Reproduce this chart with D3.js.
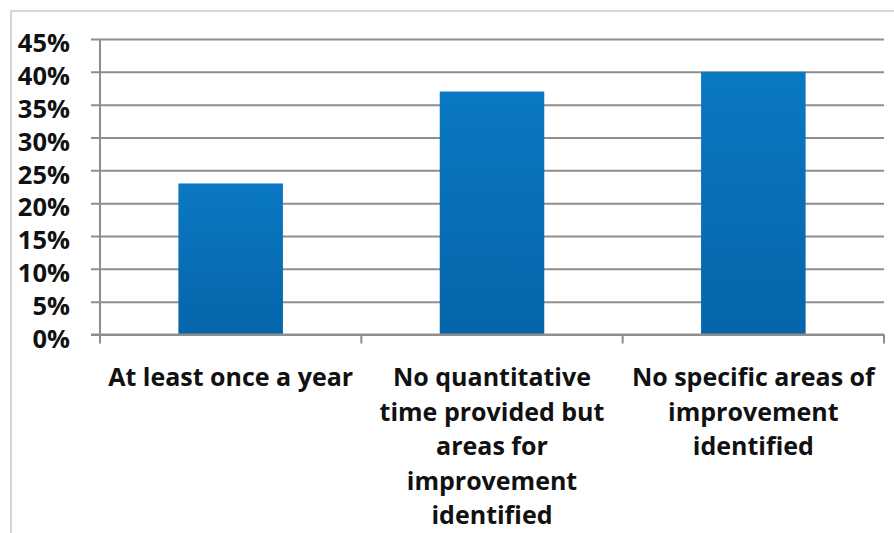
<!DOCTYPE html>
<html>
<head>
<meta charset="utf-8">
<script src="https://cdn.jsdelivr.net/npm/d3@7"></script>
<style>
  html, body { margin: 0; padding: 0; background: #fff; }
  svg { display: block; }
  text { font-family: "Open Sans", "Lato", sans-serif; font-weight: 700; fill: #111; }
</style>
</head>
<body>
<svg id="chart" width="894" height="533"></svg>
<script>
// Categories, with the line breaks used for their axis labels
const categories = [
  "At least once a year",
  "No quantitative time provided but areas for improvement identified",
  "No specific areas of improvement identified"
];
const categoryLines = [
  ["At least once a year"],
  ["No quantitative", "time provided but", "areas for", "improvement", "identified"],
  ["No specific areas of", "improvement", "identified"]
];
// Share of responses (percent)
const values = [23, 37, 40];
// Y axis ticks (percent)
const yTicks = [0, 5, 10, 15, 20, 25, 30, 35, 40, 45];

const svg = d3.select("#chart");
const W = 894, H = 533;
const plot = { left: 100, right: 884, top: 39, bottom: 334.5 };
const fontFamily = "'Open Sans', Lato, sans-serif";

// Outer chart frame
svg.append("path")
  .attr("d", `M11,${H} L11,11 L${W + 5},11`)
  .attr("fill", "none")
  .attr("stroke", "#d6d6d6")
  .attr("stroke-width", 2);

const x = d3.scaleBand()
  .domain(categories)
  .range([plot.left, plot.right])
  .paddingInner(0.6)
  .paddingOuter(0.3);

const y = d3.scaleLinear()
  .domain([0, 45])
  .range([plot.bottom, plot.top]);

// Bar gradient, lighter at the top
const defs = svg.append("defs");
const grad = defs.append("linearGradient")
  .attr("id", "barGrad")
  .attr("x1", 0).attr("y1", 0).attr("x2", 0).attr("y2", 1);
grad.append("stop").attr("offset", "0%").attr("stop-color", "#0a78c3");
grad.append("stop").attr("offset", "100%").attr("stop-color", "#0565aa");

// Horizontal gridlines with left ticks
const yAxis = d3.axisLeft(y)
  .tickValues(yTicks)
  .tickSize(-(plot.right - plot.left))
  .tickPadding(30)
  .tickFormat(d => d + "%");

const gy = svg.append("g")
  .attr("transform", `translate(${plot.left},0)`)
  .call(yAxis);
gy.select(".domain").remove();
gy.selectAll(".tick line")
  .attr("x1", -9)
  .attr("stroke", "#8e8e8e")
  .attr("stroke-width", 2);
gy.selectAll(".tick text")
  .attr("dy", "0.5em")
  .style("font-size", "25.5px")
  .style("font-family", fontFamily)
  .style("font-weight", 700)
  .attr("fill", "#111");

// Vertical axis line
svg.append("line")
  .attr("x1", plot.left).attr("x2", plot.left)
  .attr("y1", plot.top).attr("y2", plot.bottom)
  .attr("stroke", "#8e8e8e")
  .attr("stroke-width", 2);

// Bars
svg.append("g")
  .selectAll("rect")
  .data(categories)
  .join("rect")
  .attr("x", d => x(d))
  .attr("width", x.bandwidth())
  .attr("y", (d, i) => y(values[i]))
  .attr("height", (d, i) => y(0) - y(values[i]))
  .attr("fill", "url(#barGrad)");

// Category axis with boundary ticks
const step = x.step();
const boundaries = d3.range(categories.length + 1).map(i => plot.left + i * step);
svg.append("line")
  .attr("x1", plot.left - 9).attr("x2", plot.right)
  .attr("y1", y(0)).attr("y2", y(0))
  .attr("stroke", "#8e8e8e")
  .attr("stroke-width", 2);
svg.append("g")
  .selectAll("line")
  .data(boundaries)
  .join("line")
  .attr("x1", d => d).attr("x2", d => d)
  .attr("y1", y(0)).attr("y2", y(0) + 9)
  .attr("stroke", "#8e8e8e")
  .attr("stroke-width", 2);

// Category labels
const labels = svg.append("g")
  .selectAll("text")
  .data(categories)
  .join("text")
  .attr("x", d => x(d) + x.bandwidth() / 2)
  .attr("y", 386)
  .attr("text-anchor", "middle")
  .style("font-size", "25px")
  .style("font-family", fontFamily);
labels.each(function (d, i) {
  d3.select(this).selectAll("tspan")
    .data(categoryLines[i])
    .join("tspan")
    .attr("x", x(d) + x.bandwidth() / 2)
    .attr("dy", (t, j) => j === 0 ? 0 : 34.5)
    .text(t => t);
});
</script>
</body>
</html>
